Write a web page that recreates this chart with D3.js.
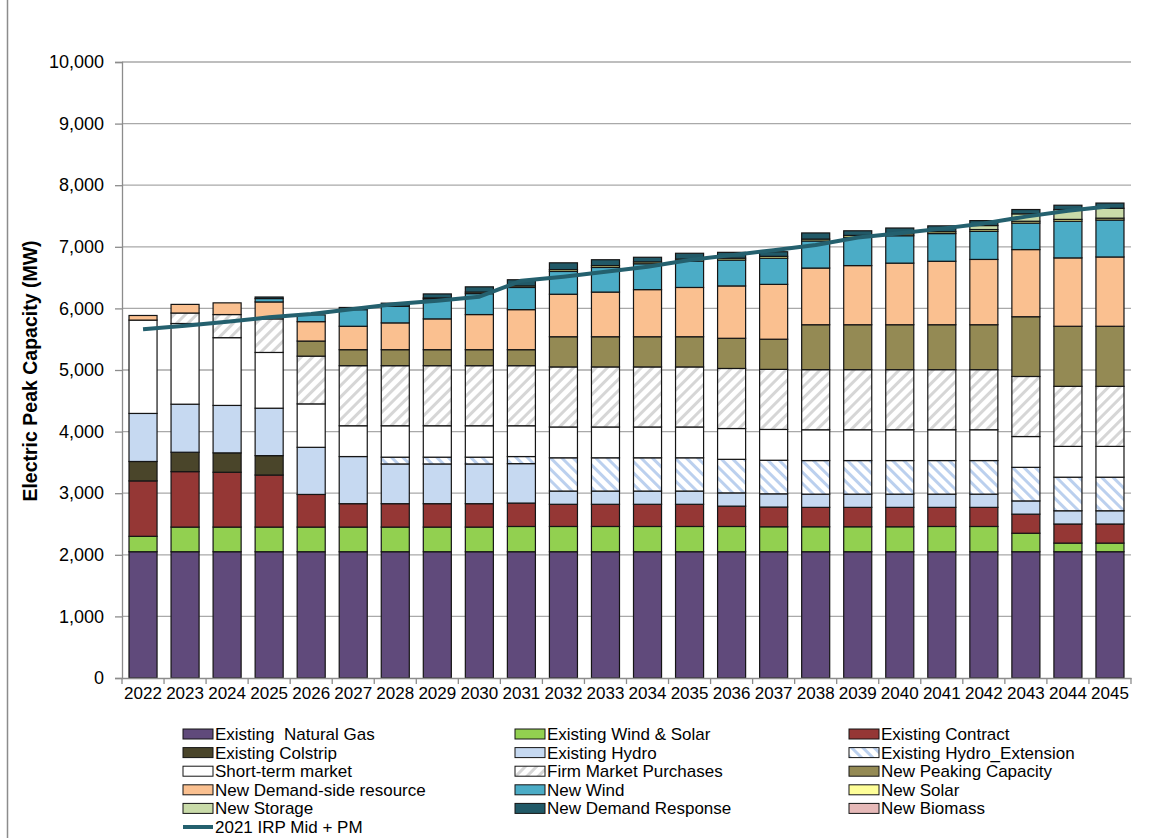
<!DOCTYPE html>
<html><head><meta charset="utf-8">
<script src="https://cdn.jsdelivr.net/npm/d3@7"></script>
<style>body{margin:0;background:#fff;} svg{display:block;font-family:"Liberation Sans",Arial,sans-serif;}</style>
</head><body><svg id="c" width="1153" height="838"></svg>
<script>
const years = ["2022","2023","2024","2025","2026","2027","2028","2029","2030","2031","2032","2033","2034","2035","2036","2037","2038","2039","2040","2041","2042","2043","2044","2045"];
const gas       = [2050,2050,2050,2050,2050,2050,2050,2050,2050,2050,2050,2050,2050,2050,2050,2050,2050,2050,2050,2050,2050,2050,2050,2050];
const windSolar = [250,400,400,400,400,400,400,400,400,410,410,410,410,410,410,405,405,405,405,410,410,300,140,140];
const contract  = [900,900,890,845,530,380,380,380,380,380,360,360,360,360,330,320,315,315,315,310,310,310,310,310];
const colstrip  = [315,315,315,315,0,0,0,0,0,0,0,0,0,0,0,0,0,0,0,0,0,0,0,0];
const hydro     = [780,780,770,770,765,765,645,645,645,640,215,215,215,215,215,215,215,215,215,215,215,215,215,215];
const hydroExt  = [0,0,0,0,0,0,110,110,110,115,540,540,540,540,545,545,545,545,545,545,545,545,545,545];
const shortTerm = [1515,1310,1100,905,705,500,510,510,510,500,500,500,500,500,500,500,500,500,500,500,500,500,500,500];
const firm      = [0,170,375,545,775,975,975,975,975,975,975,975,975,975,975,975,975,975,975,975,975,975,975,975];
const peaking   = [0,0,0,0,245,260,260,260,260,260,490,490,490,490,490,490,730,730,730,730,730,970,975,975];
const dsr       = [75,140,190,275,315,380,435,500,570,650,690,725,765,800,850,890,920,960,1000,1030,1060,1090,1110,1125];
const newWind   = [0,0,0,55,110,270,270,325,340,360,370,400,420,430,420,425,440,460,445,450,455,430,595,600];
const newSolar  = [0,0,0,0,0,0,0,15,25,25,30,30,30,30,30,30,30,30,30,30,30,30,30,30];
const storage   = [0,0,0,0,0,0,0,0,0,0,0,0,0,0,0,0,0,0,0,0,65,120,160,160];
const demandResp= [0,0,0,25,0,35,50,65,85,100,110,95,75,95,95,75,100,75,95,95,80,70,70,85];
const biomass   = [0,0,0,0,0,0,0,0,0,0,0,0,0,0,0,0,0,0,0,0,0,0,0,0];
const irpLine   = [5660,5720,5785,5855,5910,5990,6070,6125,6190,6450,6515,6595,6675,6785,6865,6945,7030,7150,7220,7295,7380,7490,7585,7660];
const yTicks = [0,1000,2000,3000,4000,5000,6000,7000,8000,9000,10000];

const seriesNames = ["Existing  Natural Gas","Existing Wind & Solar","Existing Contract","Existing Colstrip","Existing Hydro","Existing Hydro_Extension","Short-term market","Firm Market Purchases","New Peaking Capacity","New Demand-side resource","New Wind","New Solar","New Storage","New Demand Response","New Biomass"];
const seriesData = [gas,windSolar,contract,colstrip,hydro,hydroExt,shortTerm,firm,peaking,dsr,newWind,newSolar,storage,demandResp,biomass];
const seriesFill = ["#604A7B","#92D050","#953735","#4A452A","#C6D9F1","url(#pHydroExt)","#FFFFFF","url(#pFirm)","#948A54","#FAC090","#4BACC6","#FFFF99","#C9DBA9","#215967","#E6B9B8"];
const lineName = "2021 IRP Mid + PM";
const lineColor = "#24606E";

const svg = d3.select("#c");
const defs = svg.append("defs");
function stripes(id, color, angle){
  const p = defs.append("pattern").attr("id",id).attr("patternUnits","userSpaceOnUse")
    .attr("width",8).attr("height",8).attr("patternTransform",`rotate(${angle})`);
  p.append("rect").attr("width",8).attr("height",8).attr("fill","#fff");
  p.append("rect").attr("width",3).attr("height",8).attr("fill",color);
}
stripes("pFirm","#D6D6D6",45);
stripes("pHydroExt","#BBD0EE",-45);

// frame
svg.append("line").attr("x1",7.5).attr("x2",7.5).attr("y1",0).attr("y2",838).attr("stroke","#8c8c8c").attr("stroke-width",1.5);

const L=122, R=1131, T=62, B=678;
const x = d3.scaleBand().domain(years).range([L,R]).paddingInner(0.333).paddingOuter(0.1667);
const y = d3.scaleLinear().domain([0,10000]).range([B,T]);

// gridlines
svg.append("g").selectAll("line").data(yTicks.filter(d=>d>0)).join("line")
  .attr("x1",L).attr("x2",R).attr("y1",d=>y(d)).attr("y2",d=>y(d))
  .attr("stroke","#A9A9A9").attr("stroke-width",1.3);

// y axis
const yAxis = svg.append("g").attr("transform",`translate(${L},0)`)
  .call(d3.axisLeft(y).tickValues(yTicks).tickFormat(d3.format(",")).tickSizeOuter(0).tickSize(7).tickPadding(11));
yAxis.select(".domain").attr("stroke","#8c8c8c").attr("stroke-width",1.3);
yAxis.selectAll(".tick line").attr("stroke","#8c8c8c").attr("stroke-width",1.3);
yAxis.selectAll("text").attr("font-size",18).attr("fill","#000").attr("font-family","Liberation Sans, Arial, sans-serif");

// stacked bars
const table = years.map((yr,i)=>{const o={year:yr}; seriesNames.forEach((n,k)=>o[n]=seriesData[k][i]); return o;});
const stack = d3.stack().keys(seriesNames)(table);
stack.forEach((layer,k)=>{
  svg.append("g").selectAll("rect").data(layer.filter(d=>d[1]-d[0]>0)).join("rect")
    .attr("x",d=>x(d.data.year)).attr("width",x.bandwidth())
    .attr("y",d=>y(d[1])).attr("height",d=>y(d[0])-y(d[1]))
    .attr("fill",seriesFill[k]).attr("stroke","#151515").attr("stroke-width",1.2);
});

// x axis
const xAxis = svg.append("g").attr("transform",`translate(0,${B})`)
  .call(d3.axisBottom(x).tickSize(0).tickPadding(9));
xAxis.select(".domain").attr("stroke","#8c8c8c").attr("stroke-width",1.3);
xAxis.selectAll("text").attr("font-size",17).attr("fill","#000").attr("font-family","Liberation Sans, Arial, sans-serif");
const step = x.step();
svg.append("g").selectAll("line").data(d3.range(years.length+1)).join("line")
  .attr("x1",i=>L+i*step).attr("x2",i=>L+i*step).attr("y1",B).attr("y2",B+6)
  .attr("stroke","#8c8c8c").attr("stroke-width",1.3);

// line
svg.append("path").datum(irpLine)
  .attr("d",d3.line().x((d,i)=>x(years[i])+x.bandwidth()/2).y(d=>y(d)))
  .attr("fill","none").attr("stroke",lineColor).attr("stroke-width",4).attr("stroke-linejoin","round");

// y title
svg.append("text").attr("transform","translate(37,371) rotate(-90)").attr("text-anchor","middle")
  .attr("font-size",19.5).attr("font-weight","bold").text("Electric Peak Capacity (MW)");

// legend
const colX=[183,515,849], rowY0=734, rowStep=18.6;
const leg = svg.append("g");
seriesNames.forEach((n,k)=>{
  const cx=colX[k%3], cy=rowY0+Math.floor(k/3)*rowStep;
  leg.append("rect").attr("x",cx).attr("y",cy-5).attr("width",30).attr("height",10)
    .attr("fill",seriesFill[k]).attr("stroke","#151515").attr("stroke-width",1);
  leg.append("text").attr("x",cx+32).attr("y",cy+6).attr("font-size",17).text(n).style("white-space","pre");
});
const ly = rowY0+5*rowStep;
leg.append("line").attr("x1",183).attr("x2",213).attr("y1",ly).attr("y2",ly).attr("stroke",lineColor).attr("stroke-width",4);
leg.append("text").attr("x",215).attr("y",ly+6).attr("font-size",17).text(lineName);
</script></body></html>
